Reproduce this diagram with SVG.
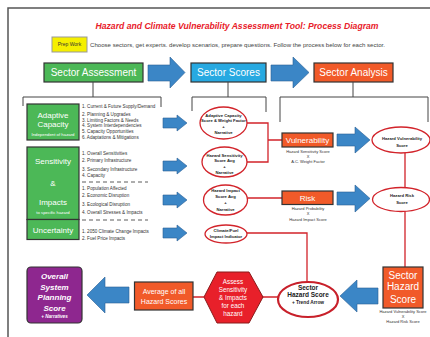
<svg xmlns="http://www.w3.org/2000/svg" width="430" height="337" viewBox="0 0 430 337">
<defs>
<style>
text{font-family:"Liberation Sans",Arial,sans-serif;}
.box{stroke:#333;stroke-width:1.2;}
.green{fill:#4cb857;}
.blue{fill:#27a9e1;}
.orange{fill:#f15a29;}
.arrow{fill:#3b86c6;stroke:#2a5f95;stroke-width:0.6;}
.ell{fill:#fff;stroke:#d2232a;stroke-width:1.3;}
.red{fill:none;stroke:#d2232a;stroke-width:1.3;}
.br{fill:none;stroke:#444;stroke-width:1;}
.wt{fill:#fff;text-anchor:middle;}
.lst{fill:#333;font-size:4.6px;}
.et{fill:#222;font-size:4.2px;font-weight:bold;text-anchor:middle;}
.sub{fill:#333;font-size:4px;text-anchor:middle;}
.dash{stroke:#333;stroke-width:0.8;stroke-dasharray:4,3;}
</style>
</defs>
<rect width="430" height="337" fill="#fff"/>
<path d="M8,337 V8 H430" fill="none" stroke="#555" stroke-width="1.5"/>

<text x="237" y="29" font-size="9.5" font-weight="bold" font-style="italic" fill="#e8202a" text-anchor="middle" textLength="283" lengthAdjust="spacingAndGlyphs">Hazard and Climate Vulnerability Assessment Tool: Process Diagram</text>

<g id="prep">
<rect x="52" y="37" width="35" height="15" fill="#f5ef00" stroke="#999" stroke-width="1"/>
<text x="69.5" y="46.3" font-size="5" fill="#333" text-anchor="middle">Prep Work</text>
</g>
<text x="90" y="46.5" font-size="5.2" fill="#444" textLength="295" lengthAdjust="spacingAndGlyphs">Choose sectors, get experts. develop scenarios,  prepare questions.  Follow the process below for each sector.</text>

<g id="sector-assessment">
<rect class="box green" x="44" y="63" width="99" height="19"/>
<text class="wt" x="93.5" y="76.3" font-size="10">Sector Assessment</text>
</g>
<g id="sector-scores">
<rect class="box blue" x="191" y="63" width="75" height="19"/>
<text class="wt" x="228.5" y="76.3" font-size="10">Sector Scores</text>
</g>
<g id="sector-analysis">
<rect class="box orange" x="314" y="63" width="79" height="19"/>
<text class="wt" x="353.5" y="76.3" font-size="10">Sector Analysis</text>
</g>

<g id="connectors">
<path class="br" d="M93,82 V97 M23,106 V97 H161 V107"/>
<path class="br" d="M228,82 V97 M192,111 V97 H266 V112"/>
<path class="br" d="M353,82 V97 M280,122 V97 H428 V122"/>
<path class="arrow" d="M148,65 H170 V57 L185,72.5 L170,88 V81 H148 Z"/>
<path class="arrow" d="M271,65 H293 V57 L309,72.5 L293,88 V81 H271 Z"/>
<path class="arrow" d="M163,118 H177 V115 L187,123 L177,131 V128 H163 Z"/>
<path class="arrow" d="M163,161 H177 V158 L187,166 L177,174 V171 H163 Z"/>
<path class="arrow" d="M163,195 H177 V192 L187,200 L177,208 V205 H163 Z"/>
<path class="arrow" d="M163,228 H177 V225 L187,233 L177,241 V238 H163 Z"/>
<path class="red" d="M247,123 H268 V162 H247 M268,140 H282"/>
<path class="red" d="M248,198 H282"/>
<path class="red" d="M405,153 V188 M405,211 V267"/>
<path class="red" d="M247,233 H307 V282"/>
<path class="red" d="M278,297 H262 M204,297 H193"/>
<path class="arrow" d="M337,134 H355 V127 L370,140 L355,153 V146 H337 Z"/>
<path class="arrow" d="M337,192 H355 V185 L370,198.5 L355,212 V205 H337 Z"/>
<path class="arrow" d="M378,288 H357 V280 L340,296 L357,312 V304 H378 Z"/>
<path class="arrow" d="M129,287 H105 V277 L87,295 L105,313 V303 H129 Z"/>
<path class="dash" d="M82,182 H148 M82,220 H148"/>
</g>

<g id="adaptive-capacity">
<rect class="box green" x="27" y="104" width="52" height="36"/>
<text class="wt" x="53" y="118" font-size="8">Adaptive</text>
<text class="wt" x="53" y="127.3" font-size="8">Capacity</text>
<text class="wt" x="53" y="135.8" font-size="4.3">Independent of hazard</text>
<text class="lst" x="82" y="108.3">1. Current &amp; Future Supply/Demand</text>
<text class="lst" x="82" y="115.6">2. Planning &amp; Upgrades</text>
<text class="lst" x="82" y="121.6">3. Limiting Factors &amp; Needs</text>
<text class="lst" x="82" y="127.2">4. System Interdependencies</text>
<text class="lst" x="82" y="132.7">5. Capacity Opportunities</text>
<text class="lst" x="82" y="138.5">6. Adaptations &amp; Mitigations</text>
</g>

<g id="sensitivity-impacts">
<rect class="box green" x="27" y="147" width="52" height="72.5"/>
<text class="wt" x="53" y="164" font-size="8">Sensitivity</text>
<text class="wt" x="53" y="186.3" font-size="8">&amp;</text>
<text class="wt" x="53" y="205.3" font-size="8">Impacts</text>
<text class="wt" x="53" y="214.2" font-size="4.3">to specific hazard</text>
<text class="lst" x="82" y="154.6">1. Overall Sensitivities</text>
<text class="lst" x="82" y="162.3">2. Primary Infrastructure</text>
<text class="lst" x="82" y="170.6">3. Secondary Infrastructure</text>
<text class="lst" x="82" y="177">4. Capacity</text>
<text class="lst" x="82" y="189.6">1. Population Affected</text>
<text class="lst" x="82" y="197.3">2. Economic Disruption</text>
<text class="lst" x="82" y="205.6">3. Ecological Disruption</text>
<text class="lst" x="82" y="214.3">4. Overall Stresses &amp; Impacts</text>
</g>

<g id="uncertainty">
<rect class="box green" x="27" y="219.5" width="52" height="20"/>
<text class="wt" x="53" y="232.5" font-size="8">Uncertainty</text>
<text class="lst" x="82" y="232.6">1. 2050 Climate Change Impacts</text>
<text class="lst" x="82" y="240.3">2. Fuel Price Impacts</text>
</g>

<g id="ac-score">
<ellipse class="ell" cx="223.5" cy="123" rx="23.5" ry="16"/>
<text class="et" x="223.5" y="116.6">Adaptive Capacity</text>
<text class="et" x="223.5" y="122.3">Score &amp; Weight Factor</text>
<text class="et" x="223.5" y="128.3">+</text>
<text class="et" x="223.5" y="134.3">Narrative</text>
</g>
<g id="hs-score">
<ellipse class="ell" cx="224.5" cy="162" rx="22.5" ry="15"/>
<text class="et" x="224.5" y="156.6">Hazard Sensitivity</text>
<text class="et" x="224.5" y="162.3">Score Avg</text>
<text class="et" x="224.5" y="167.6">+</text>
<text class="et" x="224.5" y="173.6">Narrative</text>
</g>
<g id="hi-score">
<ellipse class="ell" cx="225.5" cy="200" rx="22" ry="15"/>
<text class="et" x="225.5" y="192.3">Hazard Impact</text>
<text class="et" x="225.5" y="198.3">Score Avg</text>
<text class="et" x="225.5" y="204.3">+</text>
<text class="et" x="225.5" y="210.6">Narrative</text>
</g>
<g id="cf-indicator">
<ellipse class="ell" cx="226" cy="234" rx="21" ry="9"/>
<text class="et" x="226" y="232.3">Climate/Fuel</text>
<text class="et" x="226" y="238.3">Impact Indicator</text>
</g>

<g id="vulnerability">
<rect class="box orange" x="282" y="133" width="51" height="14"/>
<text class="wt" x="307.5" y="142.8" font-size="8">Vulnerability</text>
<text class="sub" x="308" y="153.4">Hazard Sensitivity Score</text>
<text class="sub" x="308" y="158.4">X</text>
<text class="sub" x="308" y="163.4">A.C. Weight Factor</text>
</g>
<g id="risk">
<rect class="box orange" x="282" y="191" width="51" height="13.5"/>
<text class="wt" x="307.5" y="200.8" font-size="8">Risk</text>
<text class="sub" x="308" y="210.4">Hazard Probability</text>
<text class="sub" x="308" y="215.4">X</text>
<text class="sub" x="308" y="221.2">Hazard Impact Score</text>
</g>

<g id="hv-score">
<ellipse class="ell" cx="401" cy="140" rx="29" ry="13"/>
<text class="et" x="402" y="139.6" font-size="5.2">Hazard Vulnerability</text>
<text class="et" x="402" y="146.9" font-size="5.2">Score</text>
</g>
<g id="hr-score">
<ellipse class="ell" cx="401" cy="199.5" rx="28.5" ry="12"/>
<text class="et" x="402" y="196.9" font-size="5.2">Hazard Risk</text>
<text class="et" x="402" y="204.2" font-size="5.2">Score</text>
</g>

<g id="sector-hazard-score">
<rect class="box orange" x="383" y="267" width="40" height="41"/>
<text class="wt" x="403" y="278.6" font-size="10">Sector</text>
<text class="wt" x="403" y="290.3" font-size="10">Hazard</text>
<text class="wt" x="403" y="302.6" font-size="10">Score</text>
<text class="sub" x="403" y="313.4">Hazard Vulnerability Score</text>
<text class="sub" x="403" y="318.4">X</text>
<text class="sub" x="403" y="323.4">Hazard Risk Score</text>
</g>

<g id="sector-hazard-ellipse">
<ellipse cx="308" cy="299.5" rx="30" ry="17.5" fill="#fff" stroke="#c8202a" stroke-width="2.2"/>
<text x="308" y="289.6" font-size="6.5" font-weight="bold" fill="#222" text-anchor="middle">Sector</text>
<text x="308" y="297.3" font-size="6.5" font-weight="bold" fill="#222" text-anchor="middle">Hazard Score</text>
<text x="308" y="304" font-size="4.8" font-weight="bold" fill="#222" text-anchor="middle">+ Trend Arrow</text>
</g>

<g id="assess-hexagon">
<polygon points="204,297 217,272 249,272 263,297 249,323 217,323" fill="#e8202a" stroke="#8a1a1a" stroke-width="1"/>
<text class="wt" x="233" y="284" font-size="6.3">Assess</text>
<text class="wt" x="233" y="291.6" font-size="6.3">Sensitivity</text>
<text class="wt" x="233" y="299.6" font-size="6.3">&amp; Impacts</text>
<text class="wt" x="233" y="308.3" font-size="6.3">for each</text>
<text class="wt" x="233" y="316.3" font-size="6.3">hazard</text>
</g>

<g id="average">
<rect class="box orange" x="134.5" y="282" width="58.5" height="28"/>
<text class="wt" x="164" y="294.2" font-size="7">Average of all</text>
<text class="wt" x="164" y="304.2" font-size="7">Hazard Scores</text>
</g>

<g id="overall">
<rect x="27" y="267" width="55" height="56" rx="4" fill="#8e278f" stroke="#333" stroke-width="1.2"/>
<text class="wt" x="54.5" y="279" font-size="8" font-weight="bold" font-style="italic">Overall</text>
<text class="wt" x="54.5" y="290" font-size="8" font-weight="bold" font-style="italic">System</text>
<text class="wt" x="54.5" y="300" font-size="8" font-weight="bold" font-style="italic">Planning</text>
<text class="wt" x="54.5" y="311" font-size="8" font-weight="bold" font-style="italic">Score</text>
<text class="wt" x="54.5" y="318" font-size="4.6" font-weight="bold" font-style="italic">+ Narratives</text>
</g>
</svg>
